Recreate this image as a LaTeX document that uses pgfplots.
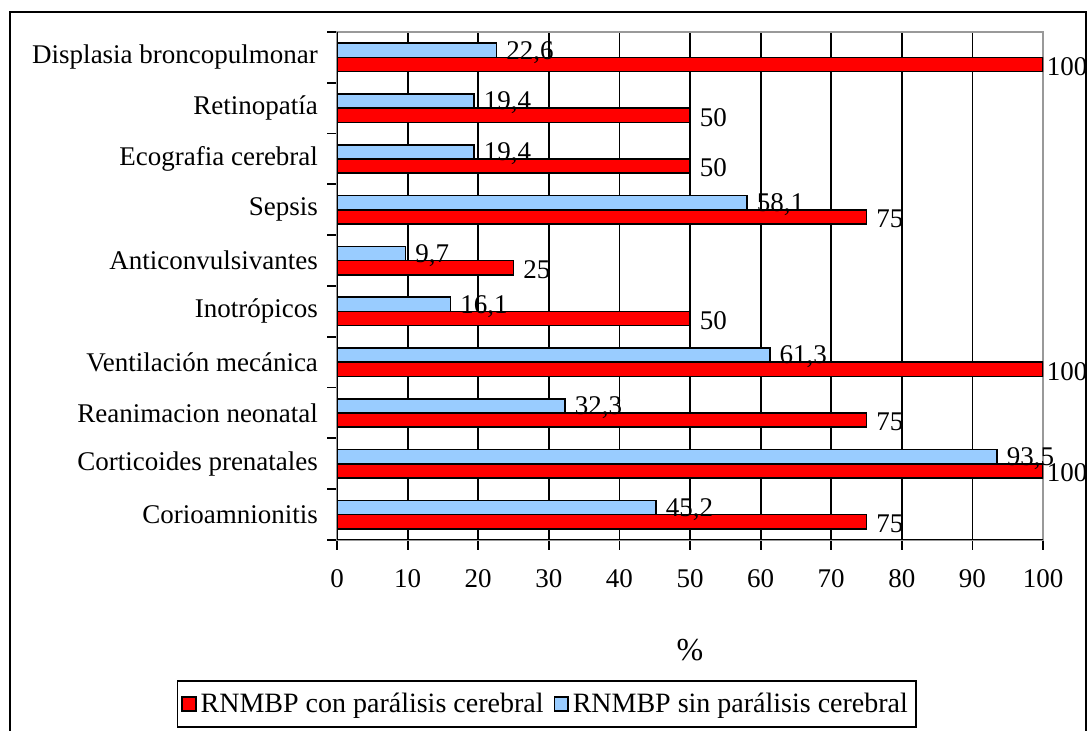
\documentclass[border=0pt]{standalone}
\usepackage{pgfplots}
\pgfplotsset{compat=1.18}
\usepackage{fontspec}
\setmainfont{Liberation Serif}

\definecolor{conPC}{HTML}{FF0000}
\definecolor{sinPC}{HTML}{99CCFF}

% con: RNMBP con parálisis cerebral, sin: RNMBP sin parálisis cerebral
\pgfplotstableread{
y con sin
0 75  45.2
1 100 93.5
2 75  32.3
3 100 61.3
4 50  16.1
5 25  9.7
6 75  58.1
7 50  19.4
8 50  19.4
9 100 22.6
}\datos

\newcommand\chartfont{\fontsize{13.5}{15}\selectfont}

\begin{document}
\begin{tikzpicture}
\useasboundingbox (0pt,0pt) rectangle (546pt,365.5pt);
% outer chart frame
\draw[line width=1pt] (5pt,-10pt) -- (5pt,359.5pt) -- (543pt,359.5pt) -- (543pt,-10pt);
\begin{axis}[
  at={(168.5pt,95.5pt)}, anchor=south west,
  scale only axis, width=353pt, height=254pt,
  xbar, bar width=0.28,
  xmin=0, xmax=100, ymin=-0.5, ymax=9.5,
  xtick={0,10,20,30,40,50,60,70,80,90,100},
  ytick={-0.5,0.5,1.5,2.5,3.5,4.5,5.5,6.5,7.5,8.5,9.5},
  y tick label as interval,
  yticklabels={Corioamnionitis,Corticoides prenatales,Reanimacion neonatal,Ventilación mecánica,Inotrópicos,Anticonvulsivantes,Sepsis,Ecografia cerebral,Retinopatía,Displasia broncopulmonar},
  xtick pos=bottom, ytick pos=left,
  tick align=outside, major tick length=5pt,
  tick style={black, line width=0.9pt},
  xmajorgrids, grid style={black, line width=0.9pt},
  axis line style={draw=gray!80, line width=0.9pt},
  font=\chartfont,
  tick label style={font=\chartfont},
  /pgf/number format/assume math mode=true,
  xticklabel style={yshift=-6pt},
  yticklabel style={xshift=-1pt},
  xlabel={\%},
  xlabel style={at={(axis description cs:0.5,-0.2165)}, anchor=center, font=\fontsize{16}{18}\selectfont},
  visualization depends on=rawx \as \rawx,
  nodes near coords={\pgfmathprintnumber[fixed,use comma,precision=1]{\pgfplotspointmeta}},
  every node near coord/.append style={font=\chartfont, inner sep=1.5pt, anchor=west,
    xshift={\rawx>99 ? 0 : 3}, yshift=-1pt},
  legend style={at={(0.297,-0.323)}, anchor=center, draw=black, line width=0.9pt,
    legend columns=2, font=\fontsize{14}{16}\selectfont,
    /tikz/every even column/.append style={column sep=3pt},
    inner xsep=2pt, inner ysep=4pt},
  legend image code/.code={\draw[#1, line width=0.8pt] (0pt,-3.4pt) rectangle (6.8pt,3.4pt);},
]
\addplot[fill=conPC, draw=black, line width=0.8pt, bar shift=-0.14] table[x=con, y=y] {\datos};
\addplot[fill=sinPC, draw=black, line width=0.8pt, bar shift=0.14] table[x=sin, y=y] {\datos};
\legend{RNMBP con parálisis cerebral, RNMBP sin parálisis cerebral}
% plot-area edges on the left and bottom are black
\draw[black, line width=0.9pt] (rel axis cs:0,1) -- (rel axis cs:0,0) -- (rel axis cs:1,0);
\end{axis}
\end{tikzpicture}
\end{document}
